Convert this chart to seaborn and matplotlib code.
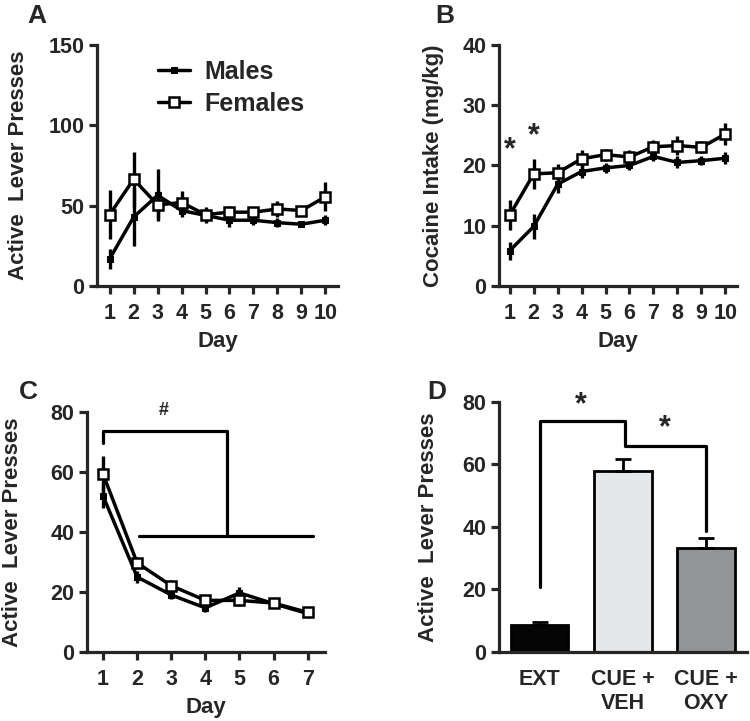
import numpy as np
import pandas as pd
import matplotlib
matplotlib.use("Agg")
import matplotlib.pyplot as plt
import seaborn as sns

sns.set_style("ticks")
plt.rcParams["font.family"] = ["Liberation Sans", "DejaVu Sans"]
plt.rcParams["font.weight"] = "bold"

# Panel A - active lever presses during self-administration
days_a = [1, 2, 3, 4, 5, 6, 7, 8, 9, 10]
males_a = [17, 43, 56.5, 47, 44, 41, 41, 39.5, 38.5, 41]
males_a_err = [6, 18, 16, 4, 3, 4, 3, 3, 2, 3]
females_a = [44.5, 66.5, 50.5, 52, 44.5, 46, 46, 48, 47, 55.5]
females_a_err = [15, 17, 9, 7, 5, 4, 3, 5, 3, 9]

# Panel B - cocaine intake
males_b = [5.9, 9.9, 16.9, 19.0, 19.6, 20.0, 21.5, 20.5, 20.8, 21.2]
males_b_err = [1.5, 2, 1.5, 1, 0.8, 0.7, 0.8, 1, 0.8, 1]
females_b = [11.8, 18.6, 18.8, 21.1, 21.8, 21.4, 23.1, 23.3, 23.0, 25.2]
females_b_err = [2.5, 2.5, 1.5, 1.5, 1, 1.2, 1.2, 1.5, 1, 1.8]

# Panel C - extinction
days_c = [1, 2, 3, 4, 5, 6, 7]
males_c = [52, 25, 19, 14.7, 19.7, 16.1, 12.8]
males_c_err = [4, 2, 1.5, 1.5, 2, 1.5, 1]
females_c = [59.3, 29.7, 22.1, 17.2, 17.2, 16.3, 13.2]
females_c_err = [6, 2, 2, 1.5, 2, 1, 1]

# Panel D - reinstatement
groups_d = ["EXT", "CUE +\nVEH", "CUE +\nOXY"]
values_d = [8.5, 57.8, 33.3]
errors_d = [1.0, 4.0, 3.2]
colors_d = ["#050505", "#e6e7e8", "#939598"]

LW = 2.3
TICK_FS = 15.5
LAB_FS = 16


def style_axis(ax, xticks=True):
    sns.despine(ax=ax)
    for s in ["left", "bottom"]:
        ax.spines[s].set_linewidth(LW)
    ax.tick_params(axis="both", width=LW, length=6, labelsize=TICK_FS, pad=3)
    ax.tick_params(axis="x", pad=6)
    if not xticks:
        ax.tick_params(axis="x", length=0, pad=12)
    for lab in ax.get_xticklabels() + ax.get_yticklabels():
        lab.set_fontweight("bold")


def sex_lines(ax, days, m, m_err, f, f_err, legend=False):
    ax.errorbar(days, m, yerr=m_err, fmt="none", ecolor="black", elinewidth=2.4, capsize=0, zorder=2)
    ax.errorbar(days, f, yerr=f_err, fmt="none", ecolor="black", elinewidth=2.4, capsize=0, zorder=2)
    sns.lineplot(x=days, y=m, ax=ax, color="black", lw=2.5, marker="s", markersize=5,
                 markeredgecolor="black", label="Males" if legend else None, zorder=3)
    sns.lineplot(x=days, y=f, ax=ax, color="black", lw=2.5, marker="s", markersize=6.5,
                 markerfacecolor="white", markeredgecolor="black", markeredgewidth=1.8,
                 label="Females" if legend else None, zorder=4)


fig = plt.figure(figsize=(7.5, 7.21), dpi=100)

# A
ax_a = fig.add_axes([0.129, 0.603, 0.322, 0.335])
sex_lines(ax_a, days_a, males_a, males_a_err, females_a, females_a_err, legend=True)
ax_a.set_xlim(0.46, 10.54)
ax_a.set_ylim(0, 150)
ax_a.set_xticks(days_a)
ax_a.set_yticks([0, 50, 100, 150])
ax_a.set_xlabel("Day", fontsize=LAB_FS, fontweight="bold", labelpad=5)
ax_a.set_ylabel("Active  Lever Presses", fontsize=LAB_FS, fontweight="bold", labelpad=14)
leg = ax_a.legend(loc="upper left", bbox_to_anchor=(0.16, 1.03), frameon=False,
                  handlelength=1.3, handletextpad=0.55, labelspacing=0.32,
                  prop={"size": 18, "weight": "bold"})
style_axis(ax_a)

# B
ax_b = fig.add_axes([0.665, 0.603, 0.318, 0.335])
sex_lines(ax_b, days_a, males_b, males_b_err, females_b, females_b_err)
ax_b.set_xlim(0.54, 10.5)
ax_b.set_ylim(0, 40)
ax_b.set_xticks(days_a)
ax_b.set_yticks([0, 10, 20, 30, 40])
ax_b.set_xlabel("Day", fontsize=LAB_FS, fontweight="bold", labelpad=5)
ax_b.set_ylabel("Cocaine Intake (mg/kg)", fontsize=LAB_FS, fontweight="bold", labelpad=13)
ax_b.text(1, 22.6, "*", ha="center", va="center", fontsize=22, fontweight="bold")
ax_b.text(2, 24.9, "*", ha="center", va="center", fontsize=22, fontweight="bold")
style_axis(ax_b)

# C
ax_c = fig.add_axes([0.116, 0.0957, 0.317, 0.333])
sex_lines(ax_c, days_c, males_c, males_c_err, females_c, females_c_err)
ax_c.set_xlim(0.53, 7.5)
ax_c.set_ylim(0, 80)
ax_c.set_xticks(days_c)
ax_c.set_yticks([0, 20, 40, 60, 80])
ax_c.set_xlabel("Day", fontsize=LAB_FS, fontweight="bold", labelpad=5)
ax_c.set_ylabel("Active  Lever Presses", fontsize=LAB_FS, fontweight="bold", labelpad=20)
ax_c.plot([1, 1, 4.63, 4.63], [69.5, 73.8, 73.8, 38.6], color="black", lw=2.3, clip_on=False)
ax_c.plot([2.05, 7.15], [38.6, 38.6], color="black", lw=2.3)
ax_c.text(2.77, 80.5, "#", ha="center", va="center", fontsize=13, fontweight="bold")
style_axis(ax_c)

# D
ax_d = fig.add_axes([0.665, 0.0957, 0.331, 0.347])
df_d = pd.DataFrame({"group": groups_d, "value": values_d})
sns.barplot(data=df_d, x="group", y="value", hue="group", palette=colors_d,
            width=0.69, edgecolor="black", linewidth=2.0, errorbar=None, legend=False, ax=ax_d)
ax_d.errorbar(range(3), values_d, yerr=[[0, 0, 0], errors_d], fmt="none", ecolor="black",
              elinewidth=2.0, capsize=5.5, capthick=2.0, zorder=1)
ax_d.set_xlim(-0.49, 2.49)
ax_d.set_ylim(0, 80)
ax_d.set_yticks([0, 20, 40, 60, 80])
ax_d.set_xlabel("")
ax_d.set_ylabel("Active  Lever Presses", fontsize=LAB_FS, fontweight="bold", labelpad=17)
ax_d.plot([0, 0, 1.03, 1.03], [20.7, 73.8, 73.8, 68.5], color="black", lw=2.3)
ax_d.plot([1.03, 1.03, 2.0, 2.0], [68.0, 66.0, 66.0, 38.6], color="black", lw=2.3)
ax_d.text(0.5, 79.0, "*", ha="center", va="center", fontsize=22, fontweight="bold", clip_on=False)
ax_d.text(1.5, 71.5, "*", ha="center", va="center", fontsize=22, fontweight="bold")
style_axis(ax_d, xticks=False)

# panel letters
for letter, x, y in [("A", 0.037, 0.978), ("B", 0.58, 0.978), ("C", 0.025, 0.456), ("D", 0.57, 0.456)]:
    fig.text(x, y, letter, fontsize=19, fontweight="bold", ha="left", va="center")

fig.savefig("out.png", dpi=100)
